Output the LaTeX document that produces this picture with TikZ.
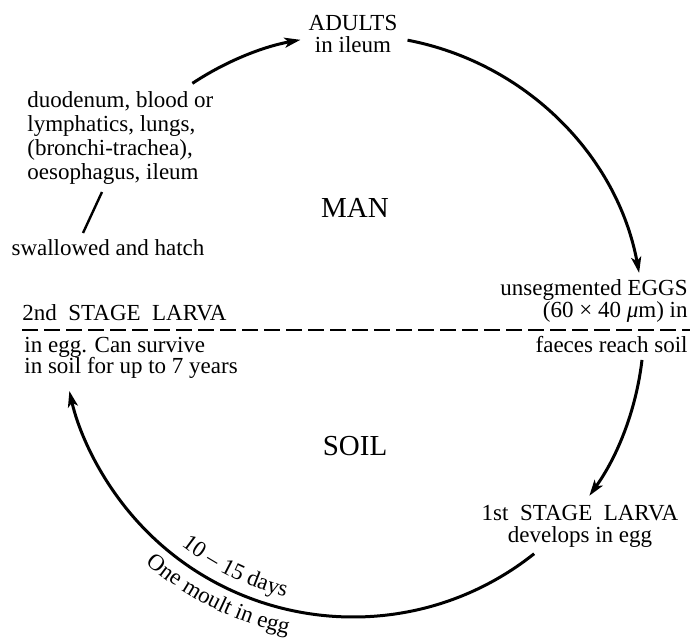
\documentclass[tikz,border=0pt]{standalone}
\usepackage{fontspec}
\setmainfont{Liberation Serif}
\usetikzlibrary{arrows.meta}
\usetikzlibrary{calc}
\usetikzlibrary{decorations.text}

\newcommand{\arcfont}{\fontsize{11.5}{12}\selectfont}

\begin{document}
\begin{tikzpicture}[x = 0.5pt, y = 0.5pt]
\tikzstyle{LabelStyle}=[inner sep = 0pt,
                        font = \fontsize{11.5}{11}\selectfont]
\tikzstyle{PlaceStyle}=[inner sep = 0pt,
                        font = \fontsize{14.5}{15}\selectfont]
\tikzstyle{CycleStyle}=[line width = 1.5pt,
                        -{Stealth[length = 8pt, width = 5pt, inset = 2pt]}]
\useasboundingbox (0,0) rectangle (690,639);
\coordinate (c) at (353,313);
% stages
\node[LabelStyle, align = center] (adults) at (353,605) {ADULTS\\in ileum};
\node[LabelStyle, align = left, anchor = west, font = \fontsize{11.5}{11.9}\selectfont] (route) at (27,501)
  {duodenum, blood or\\lymphatics, lungs,\\(bronchi-trachea),\\oesophagus, ileum};
\node[LabelStyle] (swallow) at (108,391) {swallowed and hatch};
\node[LabelStyle, anchor = west] (stage2) at (22,326) {2nd\ \ STAGE\ \ LARVA};
\node[LabelStyle, align = left, anchor = west, font = \fontsize{11.5}{10.6}\selectfont] (survive) at (24,281)
  {in egg. Can survive\\in soil for up to 7 years};
\node[LabelStyle, align = right, anchor = east] (eggs) at (688,338)
  {unsegmented EGGS\\(60 × 40 \textit{μ}m) in};
\node[LabelStyle, anchor = east] (faeces) at (688,294) {faeces reach soil};
\node[LabelStyle, align = center] (stage1) at (580,113) {1st\ \ STAGE\ \ LARVA\\develops in egg};
\node[PlaceStyle] (man) at (355,431) {MAN};
\node[PlaceStyle] (soil) at (355,193) {SOIL};
% man / soil border
\coordinate (s0) at (22,309);
\coordinate (s1) at (690,309);
\draw[line width = 1.1pt, dash pattern = on 8pt off 3pt] (s0) -- (s1);
\coordinate (r0) at (102,447);
\coordinate (r1) at (83,406);
\draw[line width = 1.2pt] (r0) -- (r1);
% the cycle
\coordinate (a0) at ($(c)+(123.5:291)$);
\coordinate (a1) at ($(c)+(79.2:291)$);
\coordinate (a2) at ($(c)+(-6.7:291)$);
\coordinate (a3) at ($(c)+(-51.5:291)$);
\draw[CycleStyle] (a0) arc[start angle = 123.5, end angle = 100.4, radius = 291];
\draw[CycleStyle] (a1) arc[start angle = 79.2, end angle = 10.5, radius = 291];
\draw[CycleStyle] (a2) arc[start angle = -6.7, end angle = -35.7, radius = 291];
\draw[CycleStyle] (a3) arc[start angle = -51.5, end angle = -167.1, radius = 291];
\coordinate (d0) at ($(c)+(228:279)$);
\coordinate (d1) at ($(c)+(224:315)$);
\path[decorate, decoration = {text along path, text align = center,
  text = {|\arcfont|10 – 15 days}}] (d0) arc[start angle = 228, end angle = 260, radius = 279];
\path[decorate, decoration = {text along path, text align = center,
  text = {|\arcfont|One moult in egg}}] (d1) arc[start angle = 224, end angle = 263, radius = 315];
\end{tikzpicture}
\end{document}
